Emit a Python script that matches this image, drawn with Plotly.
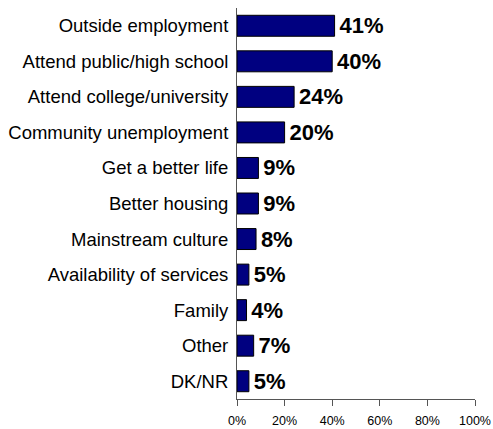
import plotly.graph_objects as go

categories = [
    "Outside employment",
    "Attend public/high school",
    "Attend college/university",
    "Community unemployment",
    "Get a better life",
    "Better housing",
    "Mainstream culture",
    "Availability of services",
    "Family",
    "Other",
    "DK/NR",
]
values = [41, 40, 24, 20, 9, 9, 8, 5, 4, 7, 5]
tick_vals = [0, 20, 40, 60, 80, 100]
tick_text = ["0%", "20%", "40%", "60%", "80%", "100%"]

fig = go.Figure(
    go.Bar(
        x=values,
        y=categories,
        orientation="h",
        marker=dict(color="#000080", line=dict(color="#000000", width=1)),
        text=[f"\u200a{v}%" for v in values],
        textposition="outside",
        constraintext="none",
        textfont=dict(family="Liberation Sans", size=22, color="#000000", weight="bold"),
        cliponaxis=False,
    )
)

fig.update_layout(
    width=493,
    height=429,
    margin=dict(l=237, r=18, t=8, b=30),
    paper_bgcolor="white",
    plot_bgcolor="white",
    bargap=0.41,
    showlegend=False,
    font=dict(family="Liberation Sans", color="#000000"),
)

fig.update_xaxes(
    range=[0, 100],
    tickvals=tick_vals,
    ticktext=tick_text,
    tickfont=dict(size=12.5),
    showgrid=False,
    zeroline=False,
    showline=True,
    linecolor="#555555",
    linewidth=1,
    ticks="outside",
    ticklen=6,
    tickcolor="#555555",
    ticklabelstandoff=4,
    automargin=False,
)

fig.update_yaxes(
    autorange="reversed",
    tickfont=dict(size=18.5),
    showgrid=False,
    zeroline=False,
    showline=True,
    linecolor="#555555",
    linewidth=1,
    ticks="",
    ticklabelstandoff=4,
    automargin=False,
)

fig.write_html("out.html")
